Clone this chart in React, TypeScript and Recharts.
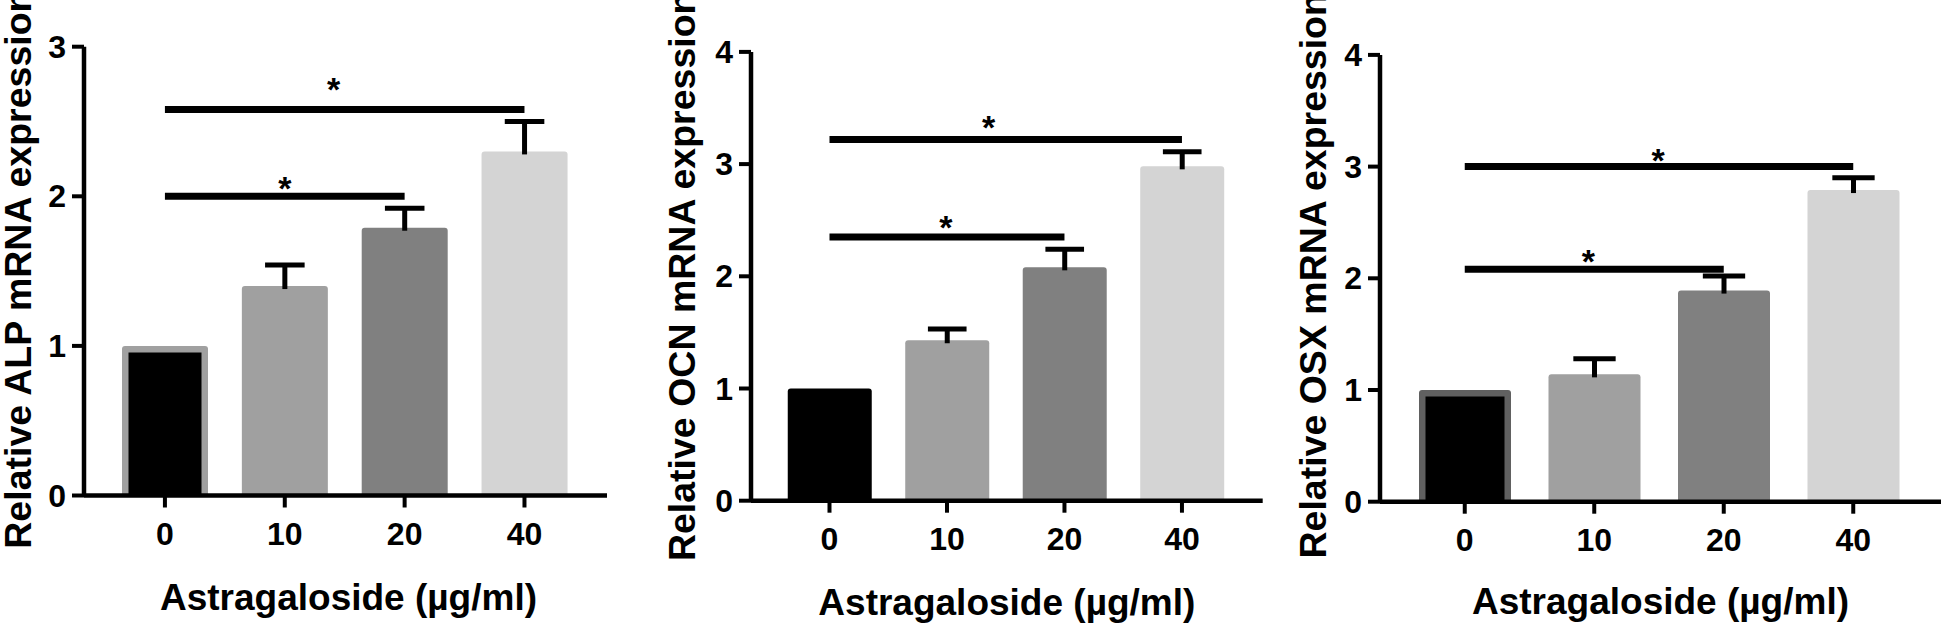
import { BarChart, Bar, Cell, XAxis, YAxis, ReferenceLine, Label, Rectangle } from "recharts";

const FONT = '"Liberation Sans", Arial, Helvetica, sans-serif';

// doses of astragaloside (µg/ml)
const doses = ["0", "10", "20", "40"];

const alpMean = [1.0, 1.4, 1.79, 2.3];
const alpErr = [0, 0.14, 0.13, 0.2];
const alpTicks = [0, 1, 2, 3];
const alpBrackets = [
  { from: "0", to: "20", y: 2.0 },
  { from: "0", to: "40", y: 2.58 },
];

const ocnMean = [1.0, 1.43, 2.08, 2.98];
const ocnErr = [0, 0.1, 0.16, 0.13];
const ocnTicks = [0, 1, 2, 3, 4];
const ocnBrackets = [
  { from: "0", to: "20", y: 2.35 },
  { from: "0", to: "40", y: 3.22 },
];

const osxMean = [1.0, 1.14, 1.89, 2.79];
const osxErr = [0, 0.14, 0.13, 0.11];
const osxTicks = [0, 1, 2, 3, 4];
const osxBrackets = [
  { from: "0", to: "20", y: 2.08 },
  { from: "0", to: "40", y: 3.0 },
];

const barColors = ["#000000", "#a0a0a0", "#808080", "#d4d4d4"];

const panels = [
  {
    title: "Relative ALP mRNA expression",
    mean: alpMean, err: alpErr, ticks: alpTicks, brackets: alpBrackets, yMax: 3,
    left: 0, width: 640, plotLeft: 84, plotRight: 607, top: 46.7, bottom: 495.5,
    padL: 21, padR: 22.6, barSize: 86, border: "#a0a0a0",
    yTitleDx: -24.5, yTitleDy: -2, xTitleOffset: 15, xTitleDx: 3,
    stars: [{ offset: -3.9, dx: 0 }, { offset: 8.6, dx: -11 }],
  },
  {
    title: "Relative OCN mRNA expression",
    mean: ocnMean, err: ocnErr, ticks: ocnTicks, brackets: ocnBrackets, yMax: 4,
    left: 640, width: 640, plotLeft: 111, plotRight: 622.7, top: 51.9, bottom: 500.7,
    padL: 19.75, padR: 22, barSize: 84, border: null,
    yTitleDx: -13.5, yTitleDy: 0, xTitleOffset: 10, xTitleDx: 0,
    stars: [{ offset: -2.4, dx: -1 }, { offset: 0.6, dx: -17 }],
  },
  {
    title: "Relative OSX mRNA expression",
    mean: osxMean, err: osxErr, ticks: osxTicks, brackets: osxBrackets, yMax: 4,
    left: 1280, width: 666, plotLeft: 100, plotRight: 661, top: 54.9, bottom: 501.7,
    padL: 20, padR: 23, barSize: 92, border: "#606060",
    yTitleDx: -17.5, yTitleDy: -2.5, xTitleOffset: 11, xTitleDx: 0,
    stars: [{ offset: -3.4, dx: -6 }, { offset: -5.1, dx: -1 }],
  },
];

const textStyle = { fontFamily: FONT, fontWeight: 700, fill: "#000" };
const TICK_SIZE = 32;

const XTick = (props: any) => {
  const { x, y, payload } = props;
  return (
    <text x={x} y={y + 22} textAnchor="middle" fontSize={TICK_SIZE} {...textStyle}>
      {payload.value}
    </text>
  );
};

const YTick = (props: any) => {
  const { x, y, payload } = props;
  return (
    <text x={x} y={y + 11} textAnchor="end" fontSize={TICK_SIZE} {...textStyle}>
      {payload.value}
    </text>
  );
};

// upward-only error bar drawn on top of the stacked mean bar
const ErrorCap = (props: any) => {
  const { x, y, width, height } = props;
  if (!height || height < 1) return null;
  const cx = x + width / 2;
  const half = width * 0.23;
  return (
    <g>
      <line x1={cx} x2={cx} y1={y} y2={y + height + 3} stroke="#000" strokeWidth={5} />
      <line x1={cx - half} x2={cx + half} y1={y} y2={y} stroke="#000" strokeWidth={5} />
    </g>
  );
};

const Panel = ({ p }: { p: (typeof panels)[number] }) => {
  const data = doses.map((dose, i) => ({ dose, mean: p.mean[i], err: p.err[i] }));
  const chartH = 625;

  const meanShape = (props: any) => {
    const { x, y, width, height, index } = props;
    if (index === 0 && p.border) {
      const b = 6.5;
      return (
        <g>
          <Rectangle x={x} y={y} width={width} height={height} radius={[3, 3, 0, 0]} fill={p.border} />
          <Rectangle x={x + b} y={y + b} width={width - 2 * b} height={height - b} fill="#000" />
        </g>
      );
    }
    return <Rectangle x={x} y={y} width={width} height={height} radius={[3, 3, 0, 0]} fill={barColors[index]} />;
  };

  return (
    <div style={{ position: "absolute", left: p.left, top: 0 }}>
      <BarChart
        width={p.width}
        height={chartH}
        data={data}
        margin={{ top: p.top, right: p.width - p.plotRight, bottom: 0, left: 0 }}
      >
        <XAxis
          dataKey="dose"
          height={chartH - p.bottom}
          padding={{ left: p.padL, right: p.padR }}
          interval={0}
          tickSize={12}
          tickMargin={15}
          axisLine={{ stroke: "#000", strokeWidth: 4.5 }}
          tickLine={{ stroke: "#000", strokeWidth: 4 }}
          tick={<XTick />}
        >
          <Label
            value="Astragaloside (µg/ml)"
            position="insideBottom"
            offset={p.xTitleOffset}
            dx={p.xTitleDx}
            style={{ ...textStyle, fontSize: 37 }}
          />
        </XAxis>
        <YAxis
          type="number"
          width={p.plotLeft}
          domain={[0, p.yMax]}
          ticks={p.ticks}
          interval={0}
          tickSize={12}
          tickMargin={6}
          axisLine={{ stroke: "#000", strokeWidth: 4.5 }}
          tickLine={{ stroke: "#000", strokeWidth: 4 }}
          tick={<YTick />}
        >
          <Label
            value={p.title}
            angle={-90}
            position="center"
            dx={p.yTitleDx}
            dy={p.yTitleDy}
            style={{ ...textStyle, fontSize: 37.5 }}
          />
        </YAxis>
        <Bar dataKey="mean" stackId="s" barSize={p.barSize} shape={meanShape} isAnimationActive={false}>
          {data.map((_d, i) => (
            <Cell key={`c-${i}`} fill={barColors[i]} />
          ))}
        </Bar>
        <Bar dataKey="err" stackId="s" barSize={p.barSize} shape={ErrorCap} isAnimationActive={false} />
        {p.brackets.map((br, i) => (
          <ReferenceLine
            key={`br-${i}`}
            segment={[
              { x: br.from, y: br.y },
              { x: br.to, y: br.y },
            ]}
            stroke="#000"
            strokeWidth={7}
          >
            <Label
              value="*"
              position="top"
              offset={p.stars[i].offset}
              dx={p.stars[i].dx}
              style={{ ...textStyle, fontSize: 34 }}
            />
          </ReferenceLine>
        ))}
      </BarChart>
    </div>
  );
};

export default function App() {
  return (
    <div style={{ position: "absolute", left: 0, top: 0, width: 1946, height: 625, background: "#fff", overflow: "hidden" }}>
      {panels.map((p, i) => (
        <Panel key={i} p={p} />
      ))}
    </div>
  );
}
